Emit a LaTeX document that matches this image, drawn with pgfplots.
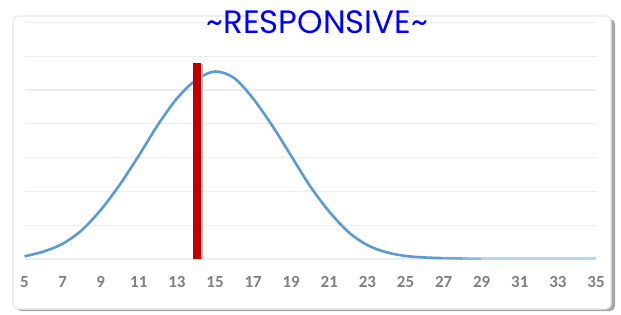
\documentclass[border=0pt]{standalone}
\usepackage{pgfplots}
\pgfplotsset{compat=1.18}
\usepackage{fontspec}
\setmainfont{Carlito}
\newfontfamily\titlefont{Poppins}
\definecolor{curveblue}{HTML}{5B9BD5}
\definecolor{tailblue}{HTML}{BCD5EE}
\definecolor{barred}{HTML}{C00000}
\definecolor{gridgray}{HTML}{EDEDED}
\definecolor{ticklab}{HTML}{7F7F7F}
\begin{document}
\begin{tikzpicture}[x=1bp,y=1bp]
\path[use as bounding box] (0,0) rectangle (621,314);
% frame with shadow
\fill[gray!70,rounded corners=5bp] (16,3) rectangle (615,295);
\fill[white,rounded corners=5bp] (13,5) rectangle (611,298);
\draw[gray!18,line width=1.2bp,rounded corners=5bp] (13,5) rectangle (611,298);
\begin{axis}[
  at={(24.5bp,55bp)}, anchor=south west,
  scale only axis, width=571.5bp, height=236.5bp,
  xmin=5, xmax=35, ymin=0, ymax=7,
  axis line style={draw=none},
  xtick={5,7,...,35}, ytick={0,1,...,7},
  yticklabels={}, major tick length=0pt,
  ymajorgrids, grid style={gridgray,line width=1.2bp},
  /pgf/number format/assume math mode=true,
  xticklabel style={font=\bfseries\fontsize{17}{17}\selectfont, text=ticklab, yshift=-14bp},
  clip=false,
]
\addplot[tailblue, line width=2.6bp] coordinates {
(29,0.01) (30,0.01) (31,0.01) (32,0.01) (33,0.01) (34,0.01) (35,0.01)};
\addplot[curveblue!50!tailblue, line width=2.6bp] coordinates {
(28,0.015) (29,0.01)};
\addplot[curveblue!80!tailblue, line width=2.6bp] coordinates {
(27,0.025) (28,0.015)};
\addplot[curveblue, line width=2.6bp, smooth] coordinates {
(5,0.08) (6,0.22) (7,0.45) (8,0.85) (9,1.45) (10,2.2) (11,3.06) (12,3.97) (13,4.75) (14,5.3) (15,5.55) (16,5.36) (17,4.75) (18,3.95) (19,3.05) (20,2.15) (21,1.4) (22,0.8) (23,0.41) (24,0.2) (25,0.09) (26,0.045) (27,0.025)};
\addplot[gray!60, line width=3bp] coordinates {(14.3,0) (14.3,5.78)};
\addplot[barred, line width=8bp] coordinates {(14.06,0) (14.06,5.81)};
\end{axis}
\node[anchor=base, text=blue, font=\titlefont\fontsize{32.5}{32.5}\selectfont, inner sep=0pt] at (317.5,281) {\textasciitilde RESPONSIVE\textasciitilde};
\end{tikzpicture}
\end{document}
